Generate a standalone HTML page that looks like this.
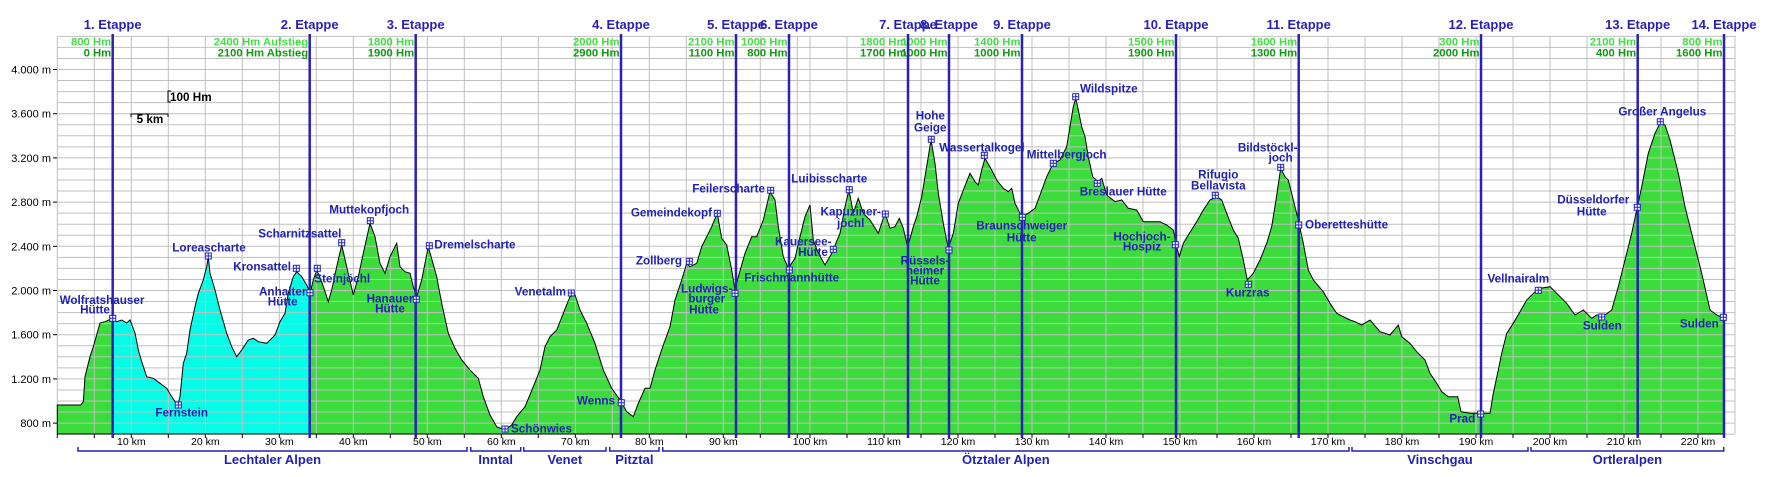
<!DOCTYPE html>
<html><head><meta charset="utf-8"><style>
html,body{margin:0;padding:0;background:#fff;}
svg{display:block;}
text{font-family:"Liberation Sans",Arial,sans-serif;}
.et{font-size:13px;font-weight:bold;fill:#2a22b4;text-anchor:middle;}
.h1{font-size:11.3px;font-weight:bold;fill:#44dd44;text-anchor:end;}
.h2{font-size:11.3px;font-weight:bold;fill:#119911;text-anchor:end;}
.lb{font-size:11.7px;font-weight:bold;fill:#2222b0;}
.yl{font-size:11px;fill:#000;text-anchor:end;}
.xl{font-size:10.5px;fill:#000;text-anchor:middle;}
.rg{font-size:13px;font-weight:bold;fill:#2222b0;text-anchor:middle;}
</style></head><body>
<svg width="1770" height="477" viewBox="0 0 1770 477" xmlns="http://www.w3.org/2000/svg">
<defs>
<g id="mk"><rect x="-3" y="-3" width="6" height="6" fill="#fff" stroke="#2222c0" stroke-width="1"/><path d="M0,-3V3M-3,0H3" stroke="#2222c0" stroke-width="1"/></g>
<clipPath id="cy"><rect x="112.7" y="0" width="197" height="477"/></clipPath>
<polygon id="pp" points="57.3,434 57.3,405 80.7,405 83.3,401.7 85,376.7 90,356.7 93.3,346.7 100,323 105,321.7 112.7,318.3 116.7,321.7 121.7,320 126.7,323 130,320 135,333 138.3,350 141.7,361.7 146.7,376.7 153.3,378.3 160,383.3 166.7,388.3 171.7,396.7 175,401.7 178.3,403.3 180,396.7 183.3,363.3 186.7,353.3 190,330 195,306.7 198.3,293.3 203.3,280 206.7,266.7 208.3,256.7 210,273.3 215,290 220,310 226.7,333.3 231.7,346.7 236.7,356.7 241.7,350 248.3,340 253.3,338.3 258.3,341.7 266.7,343.3 275,335 280,321.7 285,313.3 288.3,293.3 293.3,276.7 296.7,271.7 301.7,276.7 306.7,285 310,293.3 313.3,280 316.7,270 321.7,281.7 328.3,301.7 331.7,290 336.7,266.7 341.7,245 346.7,266.7 353.3,295 358.3,276.7 363.3,253.3 370,223.3 375,236.7 380,263.3 385,273.3 390,256.7 396.7,243.3 400,266.7 405,271.7 410,273.3 413.3,286.7 416.7,296.7 421.7,280 428.3,246.7 436.7,276.7 441.7,303.3 448.3,333.3 455,348.3 461.7,360 470,370 478.3,378.3 483.3,396.7 490,415 496.7,426.7 505,430 511.7,425 516.7,416.7 525,406.7 533.3,386.7 540,370 545,346.7 550,336.7 556.7,330 563.3,313.3 570,296.7 575,295 580,310 586.7,323.3 595,343.3 603.3,370 611.7,388.3 620,400 626.7,411.7 633.3,416.7 638.3,403.3 645,388.3 650,388.3 655,370 663.3,345 670,326.7 675,300 681.7,280 686.7,263.3 690,266.7 696.7,263.3 701.7,246.7 706.7,236.7 711.7,226.7 717.3,213.3 721.7,238.3 726.7,245 731.7,270 735,290 738.3,276.7 745,253.3 751.7,236.7 756.7,236.7 763.3,220 770,191.7 775,200 778.3,226.7 783.3,256.7 788.3,268.3 795,258.3 800,236.7 805,216.7 810,205 813.3,240 818.3,253.3 825,265 831.7,253.3 840,233.3 845,206.7 849,190 853.3,213.3 858.3,198.3 863.3,213.3 870,220 878.3,233.3 885,213.3 890,228.3 895,226.7 899.3,218.3 903.3,228.3 907.7,246.7 913.3,226.7 916.7,216.7 921.7,196.7 925,176.7 928.3,156.7 931,140 935,163.3 938.3,193.3 943.3,223.3 948.3,248.3 953.3,233.3 958.3,203.3 963.3,190 970,173.3 975,181.7 978.3,185 981.7,170 985,158.3 991.7,170 996.7,180 1003.3,188.3 1008.3,191.7 1011.7,188.3 1015,203.3 1021.7,216.7 1028.3,213.3 1035,208.3 1040,195 1046.7,176.7 1053.3,163.3 1060,160 1066.7,146.7 1070,126.7 1073.3,106.7 1075.7,98.3 1078.3,110 1081.7,126.7 1085,136.7 1088.3,156.7 1092.7,176.7 1098.3,181.7 1101.7,178.3 1106.7,195 1115,201.7 1121.7,200 1128.3,208.3 1136.7,210 1143.3,221.7 1150,221.7 1160,221.7 1166.7,225 1173.3,230 1176.7,246.7 1179.3,256.7 1183.3,243.3 1188.3,235 1196.7,221.7 1203.3,210 1210,200 1216.7,196.7 1221.7,200 1226.7,213.3 1233.3,230 1238.3,238.3 1243.3,260 1247.3,280 1253.3,273.3 1260,260 1266.7,243.3 1271.7,226.7 1276,200 1280.7,168.3 1285,176.7 1288.3,180 1293.3,200 1298.3,220 1303.3,243.3 1308.3,270 1313.3,280 1323.3,291.7 1330,303.3 1336.7,313.3 1343.3,316.7 1350,320 1355,321.7 1361.7,325 1370,320 1380,331.7 1390,335 1398.3,325 1401.7,336.7 1410,343.3 1416.7,351.7 1425,360 1430,373.3 1436.7,383.3 1441.7,391.7 1448.3,396.7 1457.7,396.7 1461,411.7 1470,413.3 1490,413.3 1493.3,393.3 1498.3,370 1501.7,353.3 1506.7,333.3 1513.3,323.3 1520,311.7 1526.7,300 1535,291.7 1540,288.3 1550,286.7 1556.7,293.3 1566.7,303.3 1575,315 1583.3,310 1591.7,318.3 1596.7,315 1605,315 1611.7,310 1618.3,286.7 1625,260 1631.7,233.3 1636.7,210 1641.7,186.7 1648.3,153.3 1655,133.3 1660,123.3 1665,125 1670,140 1678.3,173.3 1685,206.7 1693.3,240 1701.7,273.3 1710,310 1716.7,315 1724,318.3 1724,434"/>
</defs>
<rect x="57.3" y="36" width="1677.7" height="398" fill="#fff"/>
<use href="#pp" fill="#3ddc3d" stroke="none"/>
<use href="#pp" fill="#05fde8" stroke="none" clip-path="url(#cy)"/>
<g id="grid" stroke="#c0c0c0" stroke-width="1" fill="none"></g>
<use id="outline" href="#pp" fill="none" stroke="#000" stroke-width="1"/>
<script>
(function(){
var ns="http://www.w3.org/2000/svg",svg=document.querySelector('svg');
var g=document.getElementById('grid');
function L(x1,y1,x2,y2,col,w,par){var l=document.createElementNS(ns,'line');l.setAttribute('x1',x1);l.setAttribute('y1',y1);l.setAttribute('x2',x2);l.setAttribute('y2',y2);l.setAttribute('stroke',col);l.setAttribute('stroke-width',w);(par||svg).appendChild(l);}
function T(s,x,y,cls,anc,fill){var t=document.createElementNS(ns,'text');t.setAttribute('x',x);t.setAttribute('y',y);t.setAttribute('class',cls);if(anc)t.setAttribute('text-anchor',anc);if(fill)t.style.fill=fill;t.textContent=s;svg.appendChild(t);}
for(var m=4300;m>=700;m-=100){var y=69.5+(4000-m)*0.1105;L(57.3,y,1735,y,'#c0c0c0',1,g);}
var xs=[];for(var k=0;k<=20;k++)xs.push(57.3+37*k);for(var j=0;j<=24;j++)xs.push(810+37*j);
xs.forEach(function(x){L(x,36,x,434,'#c0c0c0',1,g);L(x,434,x,438,'#000',1);});
L(1735,36,1735,434,'#c0c0c0',1,g);
for(var m=800;m<=4000;m+=400){var y=69.5+(4000-m)*0.1105;L(53,y,57,y,'#000',1);T((m>=1000?(Math.floor(m/1000)+'.'+String(m%1000).padStart(3,'0')):m)+' m',51,y+4,'yl');}
for(var km=10;km<=220;km+=10){var x=km<100?57.3+7.4*km:810+7.4*(km-100);T(km+' km',x,445,'xl');}
var et=[112.7,309.7,415.7,621,736,789,908,949,1022,1176,1298.7,1481,1637.7,1724];
var hm=[['800 Hm','0 Hm'],['2400 Hm Aufstieg','2100 Hm Abstieg'],['1800 Hm','1900 Hm'],['2000 Hm','2900 Hm'],['2100 Hm','1100 Hm'],['1000 Hm','800 Hm'],['1800 Hm','1700 Hm'],['1000 Hm','1000 Hm'],['1400 Hm','1000 Hm'],['1500 Hm','1900 Hm'],['1600 Hm','1300 Hm'],['300 Hm','2000 Hm'],['2100 Hm','400 Hm'],['800 Hm','1600 Hm']];
et.forEach(function(x,i){T(hm[i][0],x-1.5,45.5,'h1');T(hm[i][1],x-1.5,56.5,'h2');});
et.forEach(function(x,i){L(x,34,x,438,'#2a1fb8',2.5);T((i+1)+'. Etappe',x,29,'et');});
var p=document.createElementNS(ns,'path');p.setAttribute('d','M171,91H168V102H171M131,117V114H168V117');p.setAttribute('stroke','#000');p.setAttribute('fill','none');svg.appendChild(p);
T('100 Hm',170,101,'lb',null,'#000');T('5 km',150,123,'lb','middle','#000');
var mk=[[112.7,318.3],[178.3,405],[208.3,256],[296.3,268.3],[341.7,242.7],[310,292.7],[317.3,268.3],[370.3,220.7],[416.3,299.3],[429.3,245.7],[505,429],[571.3,293],[621.3,402.7],[689.3,261.3],[717.3,213.3],[735,293.3],[770.7,190.3],[789.3,270],[849.3,189.7],[833.3,249.3],[885.3,214],[931.3,139.3],[949,250],[984.3,155.3],[1022.3,217.3],[1053.3,163.3],[1075.7,96.7],[1097.3,183.3],[1175.3,244.7],[1215.3,195.3],[1248.3,284.3],[1280.7,167.3],[1298.7,225],[1480.7,414],[1538.3,290.3],[1601.7,317],[1637.3,207.3],[1660.3,121.7],[1723.3,317.3]];
var labs=[['Wolfratshauser',102,304,'middle'],['Hütte',95,313.5,'middle'],['Fernstein',181.7,416.7,'middle'],['Loreascharte',172.3,251.7,'start'],['Kronsattel',291,270.3,'end'],['Scharnitzsattel',258.3,237.7,'start'],['Anhalter',282.7,295.3,'middle'],['Hütte',282.7,305.3,'middle'],['Steinjöchl',314.3,282.7,'start'],['Muttekopfjoch',329.3,213.3,'start'],['Hanauer',390,302.7,'middle'],['Hütte',390,312.7,'middle'],['Dremelscharte',434.3,248.3,'start'],
['Schönwies',511,432.3,'start'],['Venetalm',566,295.3,'end'],['Wenns',615,404.3,'end'],['Zollberg',682,264.3,'end'],['Gemeindekopf',712,216.3,'end'],['Ludwigs-',706.7,292.3,'middle'],['burger',706.7,302.7,'middle'],['Hütte',704,313.3,'middle'],['Feilerscharte',765,192.3,'end'],['Frischmannhütte',744.3,281.3,'start'],['Luibisscharte',791.3,182.3,'start'],['Kauersee-',803.3,245.3,'middle'],['Hütte',813,256,'middle'],['Kapuziner-',850.7,215.3,'middle'],['jöchl',850.7,227,'middle'],
['Hohe',930.3,119.3,'middle'],['Geige',930.3,131.3,'middle'],['Rüssels-',925,264.7,'middle'],['heimer',925,274.7,'middle'],['Hütte',925,284.7,'middle'],['Wassertalkogel',939.3,151.3,'start'],['Braunschweiger',1021.7,229.3,'middle'],['Hütte',1021.7,241.3,'middle'],['Mittelbergjoch',1026.7,158.3,'start'],['Wildspitze',1080,92.3,'start'],['Breslauer Hütte',1079.7,195.3,'start'],['Hochjoch-',1142,240.3,'middle'],['Hospiz',1142,250.7,'middle'],['Rifugio',1218.3,178.7,'middle'],['Bellavista',1218.3,189.3,'middle'],['Kurzras',1247.7,296.3,'middle'],['Bildstöckl-',1267.7,151.3,'middle'],['joch',1280.7,161.7,'middle'],['Oberetteshütte',1305,228.7,'start'],
['Prad',1475.3,422.3,'end'],['Vellnairalm',1518.3,282.3,'middle'],['Sulden',1602.3,329.3,'middle'],['Düsseldorfer',1593.3,203.3,'middle'],['Hütte',1591.7,215.3,'middle'],['Großer Angelus',1662.3,115.3,'middle'],['Sulden',1699.3,327.3,'middle']];
mk.forEach(function(q){var u=document.createElementNS(ns,'use');u.setAttribute('href','#mk');u.setAttribute('x',q[0]);u.setAttribute('y',q[1]);svg.appendChild(u);});
labs.forEach(function(a){T(a[0],a[1],a[2],'lb',a[3]);});
var rg=[['Lechtaler Alpen',78,467],['Inntal',470.7,520.7],['Venet',523.7,606],['Pitztal',609.7,659],['Ötztaler Alpen',662.7,1349],['Vinschgau',1352,1528],['Ortleralpen',1531,1723.7]];
rg.forEach(function(r){var pa=document.createElementNS(ns,'path');pa.setAttribute('d','M'+r[1]+',447V451H'+r[2]+'V447');pa.setAttribute('stroke','#2222b0');pa.setAttribute('stroke-width','1.5');pa.setAttribute('fill','none');svg.appendChild(pa);T(r[0],(r[1]+r[2])/2,464,'rg');});
})();
</script>
</svg>
</body></html>
